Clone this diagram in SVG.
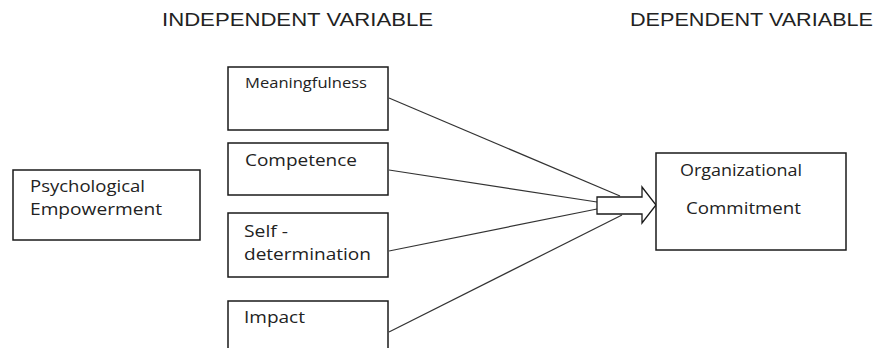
<svg xmlns="http://www.w3.org/2000/svg" width="875" height="348" viewBox="0 0 875 348">
<style>
.box{fill:#fff;stroke:#1a1a1a;stroke-width:1.5}
.t{font-family:"Open Sans","Noto Sans","Liberation Sans",sans-serif;font-size:16px;fill:#222}
.h{font-family:"Liberation Sans",Arial,sans-serif;font-size:18px;fill:#222}
.ln{stroke:#333;stroke-width:1.2;fill:none}
</style>
<rect width="875" height="348" fill="#fff"/>
<text class="h" x="162" y="26" textLength="271" lengthAdjust="spacingAndGlyphs">INDEPENDENT VARIABLE</text>
<text class="h" x="630" y="26" textLength="243" lengthAdjust="spacingAndGlyphs">DEPENDENT VARIABLE</text>
<g id="connectors">
<line class="ln" x1="389" y1="98" x2="620" y2="196"/>
<line class="ln" x1="389" y1="170" x2="597" y2="202"/>
<line class="ln" x1="389" y1="251" x2="597" y2="209"/>
<line class="ln" x1="389" y1="332" x2="622" y2="215"/>
<polygon points="597,197 642,197 642,187 656,205 642,223 642,214 597,214" fill="#fff" stroke="#1a1a1a" stroke-width="1.3"/>
</g>
<g id="psych">
<rect class="box" x="13" y="170" width="187" height="70"/>
<text class="t" x="30" y="192" textLength="115" lengthAdjust="spacingAndGlyphs">Psychological</text>
<text class="t" x="30" y="215" textLength="132" lengthAdjust="spacingAndGlyphs">Empowerment</text>
</g>
<g id="meaning">
<rect class="box" x="228" y="67" width="160" height="63"/>
<text class="t" x="245" y="88" font-size="14" textLength="122" lengthAdjust="spacingAndGlyphs" style="font-size:14px">Meaningfulness</text>
</g>
<g id="competence">
<rect class="box" x="228" y="143" width="160" height="52"/>
<text class="t" x="245" y="166" textLength="112" lengthAdjust="spacingAndGlyphs">Competence</text>
</g>
<g id="selfdet">
<rect class="box" x="228" y="213" width="160" height="64"/>
<text class="t" x="244" y="237" textLength="44" lengthAdjust="spacingAndGlyphs">Self -</text>
<text class="t" x="244" y="260" textLength="127" lengthAdjust="spacingAndGlyphs">determination</text>
</g>
<g id="impact">
<rect class="box" x="228" y="301" width="160" height="60"/>
<text class="t" x="244" y="323" textLength="61" lengthAdjust="spacingAndGlyphs">Impact</text>
</g>
<g id="orgcommit">
<rect class="box" x="656" y="153" width="190" height="97"/>
<text class="t" x="680" y="176" textLength="122" lengthAdjust="spacingAndGlyphs">Organizational</text>
<text class="t" x="686" y="214" textLength="115" lengthAdjust="spacingAndGlyphs">Commitment</text>
</g>
</svg>
